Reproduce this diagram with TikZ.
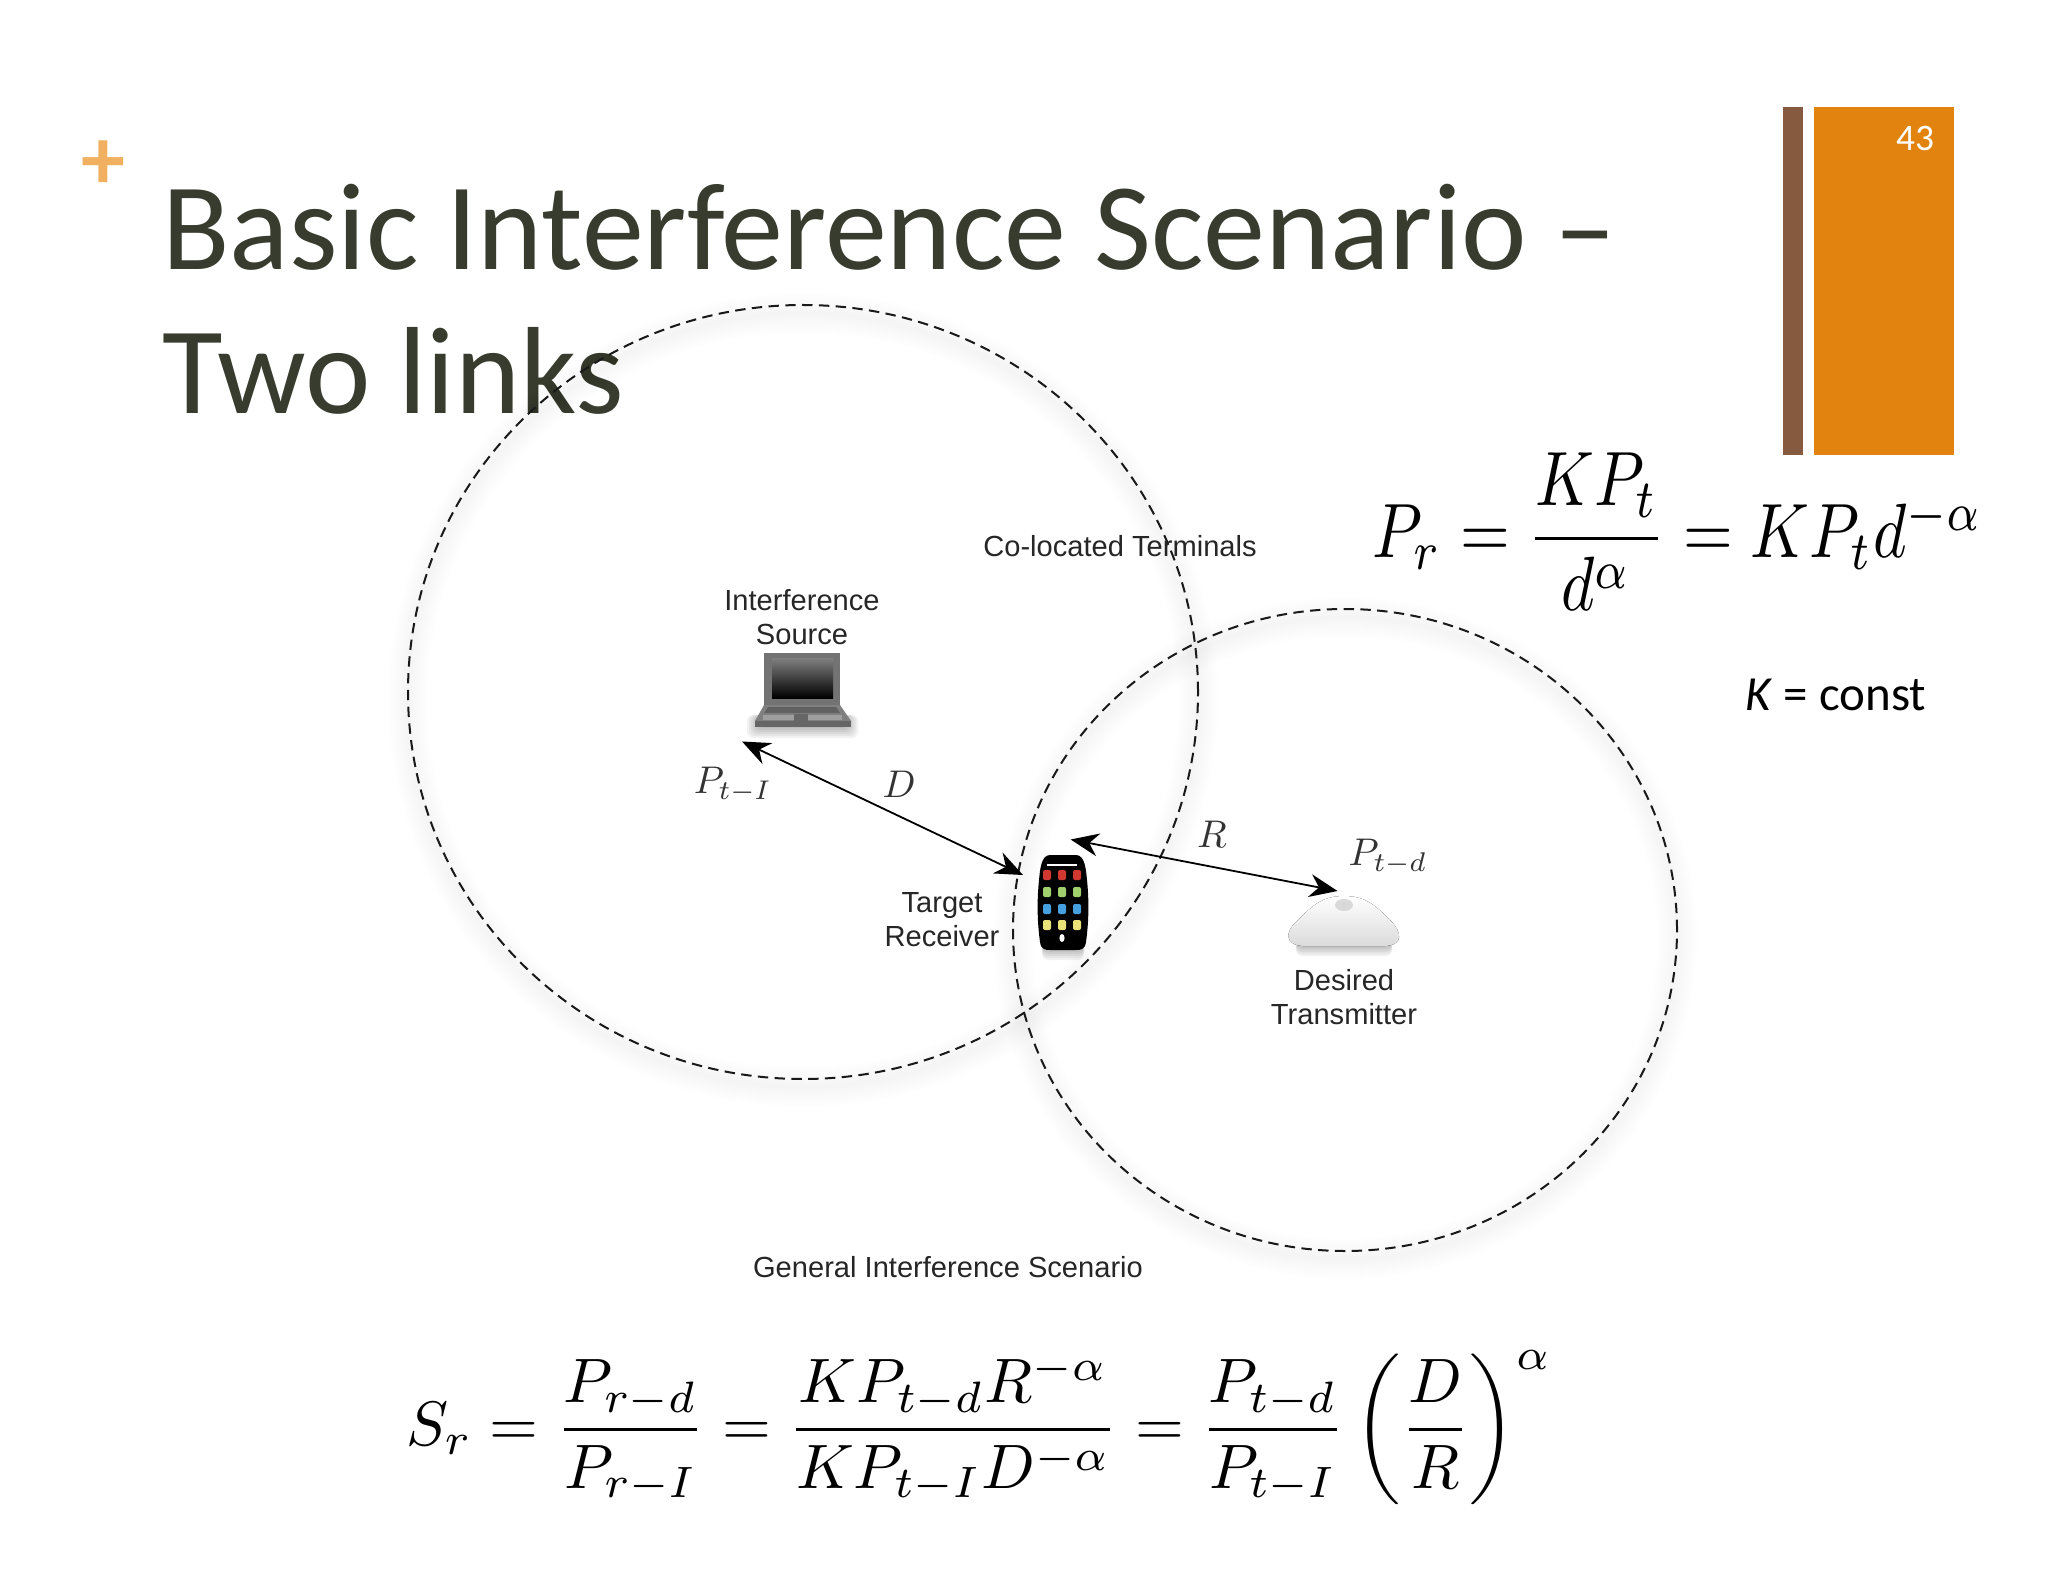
\documentclass[tikz,border=0pt]{standalone}
\usepackage{fontspec}
\usepackage{amsmath}
\usepackage{amssymb}
\setmainfont{Carlito}
\newfontfamily\labelfont{Liberation Sans}
\definecolor{slidebrown}{RGB}{133,90,62}
\definecolor{slideorange}{RGB}{226,131,16}
\definecolor{slideplus}{RGB}{240,176,96}
\definecolor{slidetitle}{RGB}{56,60,46}
\definecolor{keyred}{RGB}{208,56,48}
\definecolor{keygreen}{RGB}{160,208,110}
\definecolor{keyblue}{RGB}{70,160,224}
\definecolor{keyyellow}{RGB}{232,226,120}
\usetikzlibrary{arrows.meta,shapes.geometric}

\begin{document}
\begin{tikzpicture}[x=0.5pt,y=-0.5pt]

%
% Styles
%
\tikzstyle{heading}  = [anchor=base west,inner sep=0pt,color=slidetitle,font=\fontsize{62}{70}\selectfont]
\tikzstyle{coverage} = [ellipse,draw=black!90,dash pattern=on 5.2pt off 3.2pt,line width=1pt,inner sep=0pt]
\tikzstyle{halo}     = [ellipse,draw=black,opacity=0.005,inner sep=0pt]
\tikzstyle{tag}      = [align=center,inner sep=0pt,text=black!85,font=\labelfont\fontsize{14.55}{17}\selectfont]
\tikzstyle{symbol}   = [inner sep=0pt,scale=1.93,text=black!80]
\tikzstyle{device}   = [inner sep=0pt]
\tikzstyle{link}     = [{Stealth[length=14pt,width=11.5pt]}-{Stealth[length=14pt,width=11.5pt]},line width=0.9pt]
\tikzstyle{appkey}   = [rounded corners=1pt]
\tikzstyle{shade}    = [black,opacity=0.05,rounded corners=3pt]

\useasboundingbox (0,0) rectangle (2048,1582);

% slide furniture
\fill[slidebrown]  (1783,107) rectangle (1803,455);
\fill[slideorange] (1814,107) rectangle (1954,455);
\node[inner sep=0pt,text=white,font=\fontsize{18.7}{22}\selectfont] (page) at (1915,139) {43};
\node[inner sep=0pt,text=slideplus,font=\bfseries\fontsize{44}{44}\selectfont] (plus) at (103,165) {+};
\node[heading] (line1) at (162,270) {Basic Interference Scenario --};
\node[heading] (line2) at (162,414) {Two links};

% soft shadow below the ranges
\foreach \w in {2,4,...,20} {
  \node[halo,line width=\w pt,minimum width=395pt,minimum height=387pt] (haloA\w) at (803,700) {};
  \node[halo,line width=\w pt,minimum width=332pt,minimum height=321pt] (haloB\w) at (1345,938) {};
}

\node[coverage,minimum width=395pt,minimum height=387pt] (srcrange) at (803,692) {};
\node[coverage,minimum width=332pt,minimum height=321pt] (dstrange) at (1345,930) {};

% devices
\node[device,outer sep=6pt,minimum width=49pt,minimum height=39.5pt] (laptop) at (803,690) {};
\node[device,outer sep=7.5pt,minimum width=25pt,minimum height=47.5pt] (phone) at (1063,902) {};
\node[device,outer sep=2pt,minimum width=57pt,minimum height=27pt] (base) at (1343,922) {};

% laptop
\foreach \s in {0,2,...,10} {
  \fill[shade] (757-\s,715) rectangle (848+\s,728+\s);
}
\fill[black!55] (764,653) rectangle (840,705);
\fill[top color=black!50,bottom color=black] (772,658) rectangle (833,698);
\fill[black!50] (764,705) -- (840,705) -- (851,721) -- (755,721) -- cycle;
\fill[black!62] (768,707) -- (836,707) -- (840,713) -- (764,713) -- cycle;
\fill[black!38] (763,715) rectangle (842,720);
\fill[black!60] (794,714) rectangle (808,721);
\fill[black!60] (755,721) rectangle (851,727);

% phone
\foreach \s in {0,2,...,10} {
  \fill[shade] (1042,900) rectangle (1084,950+\s);
}
\fill[black] (1050,855) -- (1076,855) .. controls (1085,855) and (1086,870) .. (1087,880)
  .. controls (1089,900) and (1089,920) .. (1086,942) .. controls (1085,950) and (1080,950) .. (1076,950)
  -- (1050,950) .. controls (1046,950) and (1041,950) .. (1040,942)
  .. controls (1037,920) and (1037,900) .. (1039,880) .. controls (1040,870) and (1041,855) .. (1050,855) -- cycle;
\fill[white] (1047,864) rectangle (1077,866);
\foreach \col/\y in {keyred/875,keygreen/892,keyblue/909,keyyellow/925} {
  \foreach \x in {1047,1062,1077} {
    \fill[\col,appkey] (\x-4,\y-5) rectangle (\x+4,\y+5);
  }
}
\fill[white] (1062,938) ellipse (1.3pt and 2pt);

% access point
\foreach \s in {0,2,...,10} {
  \fill[shade] (1296,935) rectangle (1392,946+\s);
}
\fill[top color=white,bottom color=black!14] (1344,896) .. controls (1365,896) and (1375,905) .. (1390,920)
  .. controls (1402,932) and (1404,945) .. (1385,946) -- (1303,946)
  .. controls (1285,945) and (1284,932) .. (1298,920) .. controls (1313,905) and (1323,896) .. (1344,896) -- cycle;
\fill[black!15] (1344,905) ellipse (4.5pt and 3pt);

% connectors
\draw[link] (laptop.south west) -- (phone.146);
\draw[link] (phone.83) -- (base.100);

% labels
\node[tag] (colocated) at (1120,546) {Co-located Terminals};
\node[tag] (srctag)    at (802,617)  {Interference\\Source};
\node[tag] (rxtag)     at (942,920)  {Target\\Receiver};
\node[tag] (txtag)     at (1344,997) {Desired\\Transmitter};
\node[tag] (scenario)  at (948,1267) {General Interference Scenario};
\node[symbol] (ptI) at (733,785)  {$P_{t-I}$};
\node[symbol] (dd)  at (899,784)  {$D$};
\node[symbol] (rr)  at (1212,834) {$R$};
\node[symbol] (ptd) at (1388,857) {$P_{t-d}$};

% equations
\node[inner sep=0pt,xscale=3.2,yscale=3.85] (power) at (1678,532) {$P_r=\dfrac{KP_t}{d^\alpha}=KP_td^{-\alpha}$};
\node[inner sep=0pt,font=\fontsize{24.5}{28}\selectfont] (const) at (1836,695) {\textit{K} = const};
\node[inner sep=0pt,scale=3.14] (sir) at (979,1428) {$S_r=\dfrac{P_{r-d}}{P_{r-I}}=\dfrac{KP_{t-d}R^{-\alpha}}{KP_{t-I}D^{-\alpha}}=\dfrac{P_{t-d}}{P_{t-I}}\left(\dfrac{D}{R}\right)^{\alpha}$};

\end{tikzpicture}
\end{document}
